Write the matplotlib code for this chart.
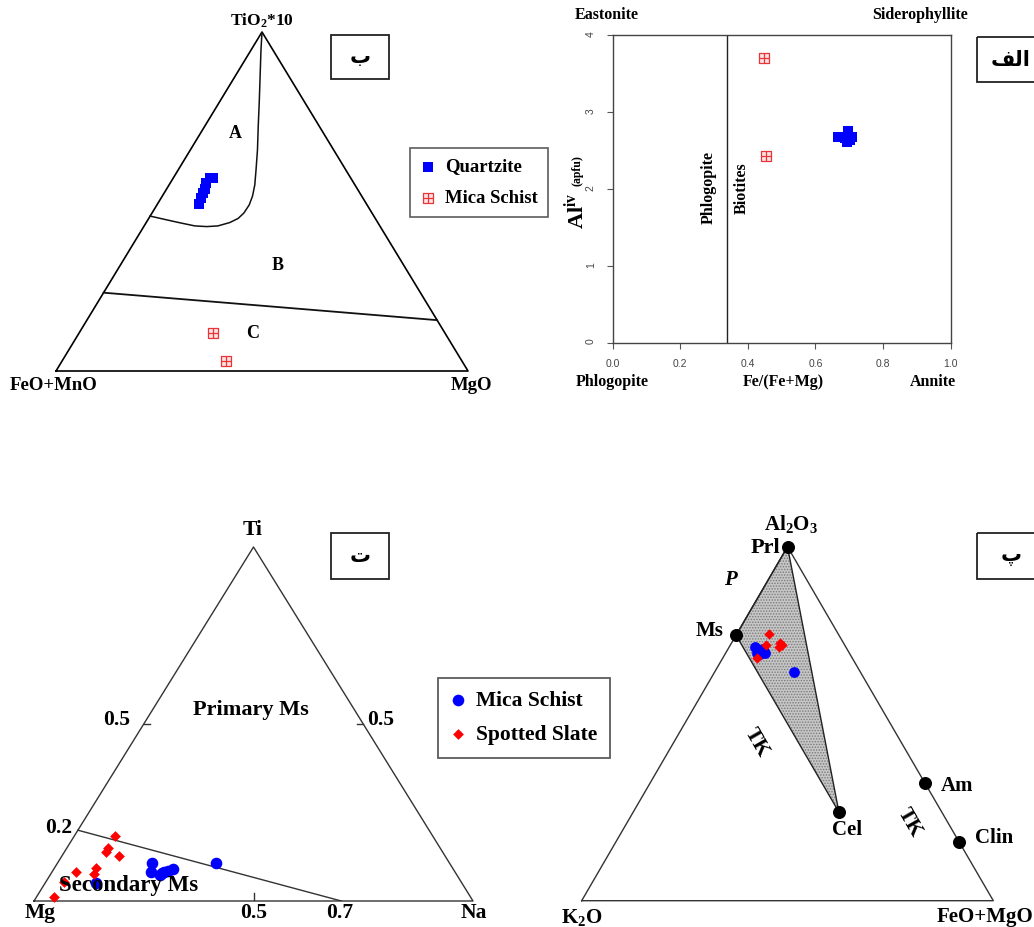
import numpy as np
import matplotlib
matplotlib.use('Agg')
import matplotlib.pyplot as plt
import matplotlib.patches as patches
from matplotlib.path import Path

plt.rcParams['font.family'] = ['Liberation Serif', 'DejaVu Sans']
plt.rcParams['font.weight'] = 'bold'
plt.rcParams['mathtext.fontset'] = 'custom'
plt.rcParams['mathtext.rm'] = 'Liberation Serif:bold'
plt.rcParams['mathtext.it'] = 'Liberation Serif:bold:italic'
plt.rcParams['mathtext.bf'] = 'Liberation Serif:bold'
plt.rcParams['mathtext.default'] = 'rm'
plt.rcParams['hatch.linewidth'] = 0.7

# ---- panel ب : TiO2*10 (top) - FeO+MnO (left) - MgO (right)
qtz_tio2 = [0.569, 0.569, 0.555, 0.537, 0.525, 0.510, 0.493]
qtz_mgo = [0.096, 0.089, 0.087, 0.093, 0.094, 0.097, 0.101]
sch_tio2 = [0.112, 0.030]
sch_mgo = [0.325, 0.398]
# field A boundary and B/C boundary
fieldA_tio2 = [0.457, 0.447, 0.437, 0.428, 0.426, 0.428, 0.438, 0.450, 0.466, 0.490,
               0.516, 0.549, 0.593, 0.652, 0.726, 0.799, 0.873, 0.947, 1.0]
fieldA_mgo = [0.0, 0.041, 0.083, 0.123, 0.153, 0.179, 0.203, 0.217, 0.223, 0.224,
              0.219, 0.208, 0.189, 0.163, 0.128, 0.094, 0.059, 0.024, 0.0]
bc_tio2 = [0.231, 0.150]
bc_mgo = [0.0, 0.850]

# ---- panel الف : Fe/(Fe+Mg) vs Al(iv)
bio_fe_qtz = [0.667, 0.696, 0.702, 0.687, 0.693, 0.708]
bio_al_qtz = [2.675, 2.753, 2.636, 2.660, 2.610, 2.675]
bio_fe_sch = [0.448, 0.454]
bio_al_sch = [3.70, 2.43]
phlog_bio = 0.34
x_ticks = [0.0, 0.2, 0.4, 0.6, 0.8, 1.0]
y_ticks = [0, 1, 2, 3, 4]

# ---- panel ت : Ti (top) - Mg (left) - Na (right)
ss_ti = [0.184, 0.151, 0.138, 0.127, 0.092, 0.075, 0.081, 0.055, 0.012]
ss_na = [0.092, 0.094, 0.095, 0.130, 0.095, 0.099, 0.056, 0.040, 0.040]
ms_ti = [0.106, 0.081, 0.073, 0.083, 0.086, 0.090, 0.078, 0.106, 0.050]
ms_na = [0.215, 0.227, 0.250, 0.255, 0.263, 0.272, 0.252, 0.361, 0.116]
sec_ti = [0.2, 0.0]
sec_na = [0.0, 0.7]

# ---- panel پ : Al2O3 (top) - K2O (left) - FeO+MgO (right)
end_names = ['Prl', 'Ms', 'Cel', 'Am', 'Clin']
end_al = [1.0, 0.75, 0.25, 0.333, 0.167]
end_fm = [0.0, 0.0, 0.5, 0.667, 0.833]
ms2_al = [0.716, 0.708, 0.703, 0.710, 0.699, 0.699, 0.696, 0.647]
ms2_fm = [0.063, 0.075, 0.085, 0.086, 0.076, 0.096, 0.085, 0.193]
ss2_al = [0.753, 0.722, 0.727, 0.716, 0.722, 0.685]
ss2_fm = [0.079, 0.087, 0.118, 0.122, 0.125, 0.083]

W, H = 1034, 927
fig = plt.figure(figsize=(W / 100, H / 100), dpi=100)


def px_axes(left, top, right, bottom, **kw):
    return fig.add_axes([left / W, 1 - bottom / H, (right - left) / W, (bottom - top) / H], **kw)


def tern(top, right):
    top = np.asarray(top, dtype=float)
    right = np.asarray(right, dtype=float)
    return right + top / 2, top


def tri_axes(left, top, right, bottom, lw, color):
    ax = px_axes(left, top, right, bottom)
    ax.set_xlim(0, 1)
    ax.set_ylim(0, 1)
    ax.axis('off')
    ax.plot([0, 1, 0.5, 0], [0, 0, 1, 0], color=color, lw=lw, clip_on=False, zorder=2)
    return ax


# overlay in pixel units for labels and boxes
ov = fig.add_axes([0, 0, 1, 1], zorder=10)
ov.set_xlim(0, W)
ov.set_ylim(H, 0)
ov.axis('off')


def label(x, y, s, size, **kw):
    ov.text(x, y, s, fontsize=size, ha='center', va='center', **kw)


def letter_box(x0, y0, x1, y1, s):
    ov.add_patch(patches.Rectangle((x0, y0), x1 - x0, y1 - y0, fill=False,
                                   edgecolor='#222222', lw=1.3, clip_on=False))
    ov.text((x0 + x1) / 2, (y0 + y1) / 2, s, fontsize=15, ha='center', va='center',
            family=['DejaVu Sans'], weight='bold')


# square-with-cross marker
sq_cross = Path([(-1, -1), (1, -1), (1, 1), (-1, 1), (-1, -1), (0, -1), (0, 1), (-1, 0), (1, 0)],
                [Path.MOVETO, Path.LINETO, Path.LINETO, Path.LINETO, Path.CLOSEPOLY,
                 Path.MOVETO, Path.LINETO, Path.MOVETO, Path.LINETO])
red_sq = dict(marker=sq_cross, s=55, facecolor='#fde3e3', edgecolor='#e8353a', linewidths=0.9)
blue_sq = dict(marker='s', s=42, color='#0000ff', linewidths=0)

# ================= panel ب
ax1 = tri_axes(56, 32, 468, 371, 1.2, 'black')
ax1.plot(*tern(fieldA_tio2, fieldA_mgo), color='#111111', lw=1.1)
ax1.plot(*tern(bc_tio2, bc_mgo), color='#111111', lw=1.3)
h_qtz = ax1.scatter(*tern(qtz_tio2, qtz_mgo), clip_on=False, zorder=3, **blue_sq)
h_sch = ax1.scatter(*tern(sch_tio2, sch_mgo), clip_on=False, zorder=3, **red_sq)
leg1 = ax1.legend([h_qtz, h_sch], ['Quartzite', 'Mica Schist'], loc='upper left',
                  bbox_to_anchor=(410 / W, 1 - 148 / H), bbox_transform=fig.transFigure,
                  fontsize=13.5, frameon=True, fancybox=False, borderpad=0.55,
                  labelspacing=0.75, handlelength=0.8, handletextpad=0.5, borderaxespad=0)
leg1.get_frame().set_edgecolor('#333333')
leg1.get_frame().set_linewidth(1.2)

label(262, 21, 'TiO$_2$*10', 12.5)
label(54, 385, 'FeO+MnO', 13.5)
label(471, 385, 'MgO', 13.5)
label(235, 133, 'A', 13)
label(278, 266, 'B', 13)
label(253, 333, 'C', 13)
letter_box(331, 35, 389, 79, '\u0628')

# ================= panel الف
ax2 = px_axes(612.5, 35, 950.7, 342.7)
ax2.set_facecolor('none')
ax2.set_xlim(0, 1)
ax2.set_ylim(0, 4)
ax2.axvline(phlog_bio, color='#222222', lw=1.0)
ax2.scatter(bio_fe_qtz, bio_al_qtz, clip_on=False, zorder=3, **blue_sq)
ax2.scatter(bio_fe_sch, bio_al_sch, clip_on=False, zorder=3, **red_sq)
ax2.set_xticks(x_ticks)
ax2.set_xticklabels(['%.1f' % v for v in x_ticks])
ax2.set_yticks(y_ticks)
ax2.set_yticklabels([str(v) for v in y_ticks])
ax2.tick_params(direction='out', length=4, width=0.8, colors='#555555', labelsize=7.5, pad=8)
ax2.tick_params(axis='y', labelrotation=90)
for t in ax2.get_xticklabels() + ax2.get_yticklabels():
    t.set_fontfamily('Liberation Sans')
    t.set_fontweight('normal')
    t.set_color('#444444')
for sp in ax2.spines.values():
    sp.set_color('#444444')
    sp.set_linewidth(1.0)

label(607, 15, 'Eastonite', 11.5)
label(920, 15, 'Siderophyllite', 11.5)
label(612, 382, 'Phlogopite', 11.5)
label(783, 382, 'Fe/(Fe+Mg)', 11.5)
label(933, 382, 'Annite', 11.5)
label(709, 187, 'Phlogopite', 11.5, rotation=90)
label(742, 188, 'Biotites', 11.5, rotation=90)
label(576, 211, 'Al$^{iv}$', 16, rotation=90)
label(577, 171, '(apfu)', 8.5, rotation=90)
# الف written in presentation forms (visual order) since matplotlib does not shape Arabic
letter_box(977, 37, 1045, 82, '\ufed2\ufedf\ufe8d')

# ================= panel ت
ax3 = tri_axes(34, 547, 473, 901, 1.0, '#333333')
ax3.plot(*tern(sec_ti, sec_na), color='#333333', lw=1.0)
# inner ticks at 0.5
ax3.plot([0.25, 0.265], [0.5, 0.5], color='#333333', lw=1.0)
ax3.plot([0.75, 0.735], [0.5, 0.5], color='#333333', lw=1.0)
ax3.plot([0.5, 0.5], [0, 0.022], color='#333333', lw=1.0)
h_ms = ax3.scatter(*tern(ms_ti, ms_na), marker='o', s=70, color='#0000ff', linewidths=0,
                   clip_on=False, zorder=3)
h_ss = ax3.scatter(*tern(ss_ti, ss_na), marker='D', s=30, color='#ff0000', linewidths=0,
                   clip_on=False, zorder=3)
leg3 = ax3.legend([h_ms, h_ss], ['Mica Schist', 'Spotted Slate'], loc='upper left',
                  bbox_to_anchor=(438 / W, 1 - 678 / H), bbox_transform=fig.transFigure,
                  fontsize=15.5, frameon=True, fancybox=False, borderpad=0.6,
                  labelspacing=0.65, handlelength=0.66, handletextpad=0.5, borderaxespad=0)
leg3.get_frame().set_edgecolor('#333333')
leg3.get_frame().set_linewidth(1.3)

label(253, 530, 'Ti', 15.5)
label(40, 913, 'Mg', 15.5)
label(474, 913, 'Na', 15.5)
label(254, 913, '0.5', 15.5)
label(340, 913, '0.7', 15.5)
label(117, 720, '0.5', 15.5)
label(381, 720, '0.5', 15.5)
label(59, 828, '0.2', 15.5)
label(251, 710, 'Primary Ms', 16)
label(129, 885, 'Secondary Ms', 16.5)
letter_box(331, 533, 389, 579, '\u062a')

# ================= panel پ
ax4 = tri_axes(581.7, 546.7, 993.3, 900.7, 1.0, '#333333')
ex, ey = tern(end_al, end_fm)
shade = [0, 1, 2]  # Prl - Ms - Cel
ax4.fill(ex[shade], ey[shade], facecolor='#c6c6c6', edgecolor='#7a7a7a', hatch='......',
         lw=0, zorder=1)
ax4.fill(ex[shade], ey[shade], fill=False, edgecolor='#222222', lw=1.0, zorder=2)
ax4.scatter(*tern(ms2_al, ms2_fm), marker='o', s=60, color='#0000ff', linewidths=0, zorder=3)
ax4.scatter(*tern(ss2_al, ss2_fm), marker='D', s=28, color='#ff0000', linewidths=0, zorder=3)
ax4.scatter(ex, ey, marker='o', s=70, color='black', clip_on=False, zorder=4)

label(791, 524, 'Al$_2$O$_3$', 15)
label(765, 548, 'Prl', 16)
label(730, 580, 'P', 15, style='italic')
label(710, 631, 'Ms', 15)
label(847, 830, 'Cel', 15)
label(957, 786, 'Am', 15)
label(994, 838, 'Clin', 15)
label(757, 743, 'TK', 15, rotation=-60)
label(910, 823, 'TK', 15, rotation=-60)
label(582, 917, 'K$_2$O', 15)
label(985, 917, 'FeO+MgO', 15)
letter_box(977, 533, 1045, 579, '\u067e')

fig.savefig('out.png', dpi=100)
